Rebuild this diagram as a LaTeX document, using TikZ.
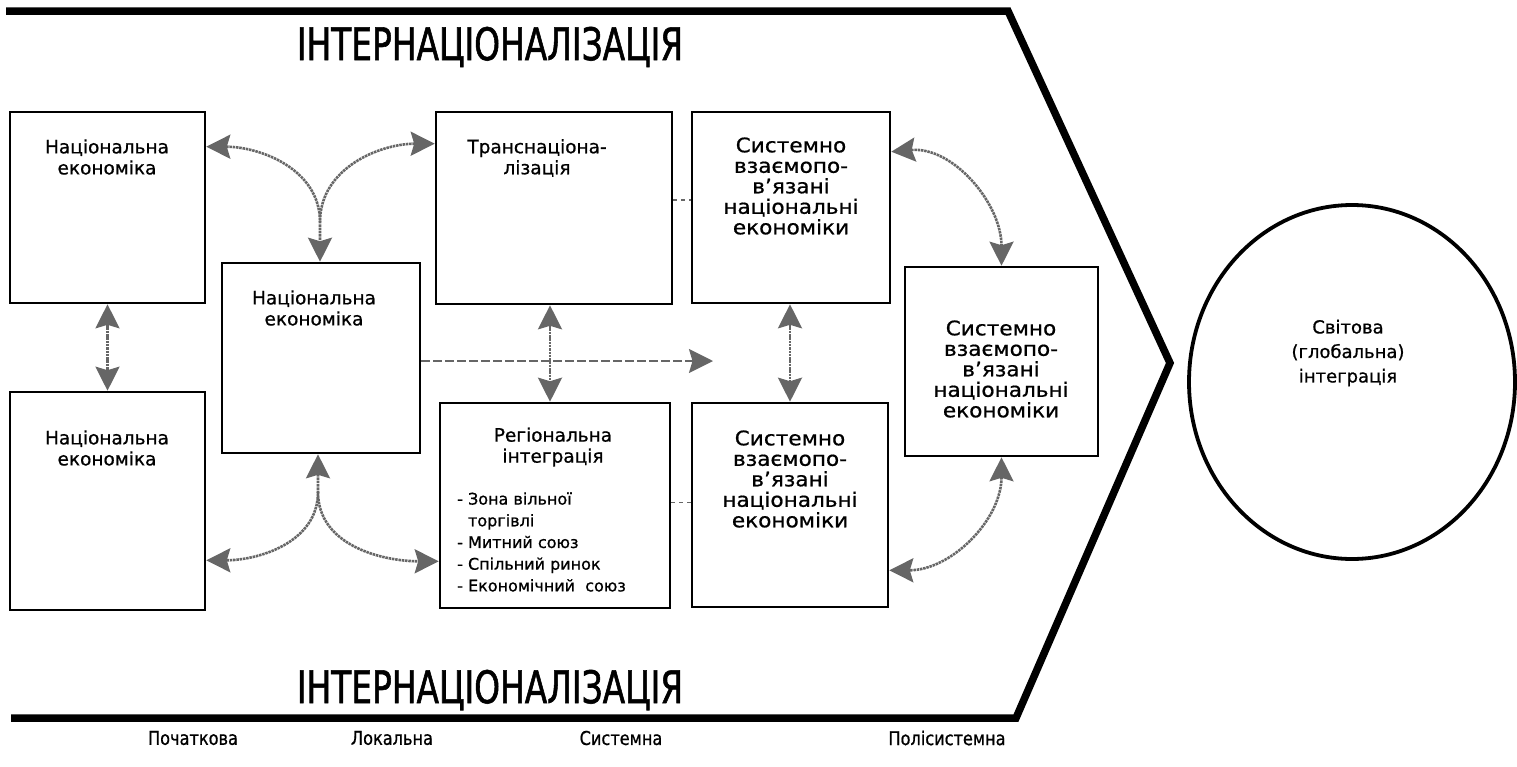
\documentclass[tikz,border=0pt]{standalone}
\usepackage{fontspec}
\setmainfont{DejaVu Sans}[FakeBold=0.8]
\newfontfamily\titlefont[FakeStretch=0.73,FakeBold=1.2]{DejaVu Sans}
\newfontfamily\stagefont[FakeStretch=0.85,FakeBold=0.8]{DejaVu Sans}
\newfontfamily\wideboxfont[FakeStretch=1.08,FakeBold=0.8]{DejaVu Sans}
\usetikzlibrary{arrows.meta,shapes.geometric}

\begin{document}
\begin{tikzpicture}[x=1pt,y=-1pt,
  frame/.style={line width=7.5pt, line join=miter, line cap=butt},
  box/.style={draw, line width=2.6pt, inner sep=0pt},
  hd/.style={align=center, inner sep=0pt, font=\fontsize{18.5}{21}\selectfont},
  sys/.style={align=center, inner sep=0pt, font=\wideboxfont\fontsize{20}{20.5}\selectfont},
  lst/.style={align=left, inner sep=0pt, font=\fontsize{16}{21.7}\selectfont},
  ttl/.style={inner sep=0pt, font=\titlefont\fontsize{45}{45}\selectfont},
  stage/.style={inner sep=0pt, font=\stagefont\fontsize{19}{19}\selectfont},
  gtip/.tip={Stealth[length=24pt,width=24pt,inset=3.5pt]},
  garr/.style={draw=black!60, line width=2.6pt, dash pattern=on 2.5pt off 0.8pt},
  gdash/.style={draw=black!60, line width=2.2pt, dash pattern=on 9pt off 3pt},
  gdots/.style={draw=black!60, line width=1.8pt, dash pattern=on 4pt off 4pt}
]
\useasboundingbox (0,0) rectangle (1517,766);

% outer chevron frame
\draw[frame] (6,11) -- (1008,11) -- (1170,363) -- (1016,718) -- (11,718);

% titles
\node[ttl] (ttop) at (490,47) {ІНТЕРНАЦІОНАЛІЗАЦІЯ};
\node[ttl] (tbot) at (490,690) {ІНТЕРНАЦІОНАЛІЗАЦІЯ};

% boxes
\node[box, minimum width=195pt, minimum height=191pt] (b1) at (107.5,207.5) {};
\node[box, minimum width=195pt, minimum height=218pt] (b2) at (107.5,501) {};
\node[box, minimum width=198pt, minimum height=190pt] (b3) at (321,358) {};
\node[box, minimum width=236pt, minimum height=192pt] (b4) at (554,208) {};
\node[box, minimum width=230pt, minimum height=205pt] (b5) at (555,505.5) {};
\node[box, minimum width=198pt, minimum height=191pt] (b6) at (791,207.5) {};
\node[box, minimum width=193pt, minimum height=189pt] (b7) at (1001.5,361.5) {};
\node[box, minimum width=196pt, minimum height=204pt] (b8) at (790,505) {};

% world integration
\node[draw, ellipse, line width=3.8pt, minimum width=326pt, minimum height=354pt, inner sep=0pt] (world) at (1352,382) {};
\node[hd, font=\fontsize{18}{24.5}\selectfont] (worldtxt) at (1348,353) {Світова\\(глобальна)\\інтеграція};

% box texts
\node[hd] (t1) at (107,157) {Національна\\економіка};
\node[hd] (t2) at (107,448) {Національна\\економіка};
\node[hd] (t3) at (314,308) {Національна\\економіка};
\node[hd] (t4) at (537,158) {Транснаціона-\\лізація};
\node[hd] (t5) at (553,447) {Регіональна\\інтеграція};
\node[lst, anchor=west] (t5l) at (457,542) {- Зона вільної\\\phantom{- }торгівлі\\- Митний союз\\- Спільний ринок\\- Економічний\ \ союз};
\node[sys] (t6) at (791,186) {Системно\\взаємопо-\\в’язані\\національні\\економіки};
\node[sys] (t7) at (1001,369) {Системно\\взаємопо-\\в’язані\\національні\\економіки};
\node[sys] (t8) at (790,479) {Системно\\взаємопо-\\в’язані\\національні\\економіки};

% stage labels
\node[stage] (s1) at (193,738) {Початкова};
\node[stage] (s2) at (392,738) {Локальна};
\node[stage] (s3) at (621,738) {Системна};
\node[stage] (s4) at (947,738) {Полісистемна};

% connectors
\coordinate (m1) at (320,222);
\coordinate (m2) at (318,492);
\coordinate (hend) at (713,361);

\draw[garr, gtip-gtip] ([yshift=-36pt]b1.north east) to[out=0, in=90] (m1) -- (m1 |- b3.north);
\draw[garr, gtip-] ([yshift=-33pt]b4.north west) to[out=180, in=90] (m1);

\draw[garr, gtip-gtip] (b3.south -| m2) -- (m2) to[out=-90, in=0] ([yshift=51pt]b2.south east);
\draw[garr, -gtip] (m2) to[out=-90, in=180] ([yshift=48pt]b5.south west);

\draw[garr, gtip-gtip] (b1.south) -- (b2.north);
\draw[garr, gtip-gtip] (b4.south -| 550,0) -- (b5.north -| 550,0);
\draw[garr, gtip-gtip] (b6.south -| 790,0) -- (b8.north -| 790,0);

\draw[garr, gtip-gtip] ([yshift=-41pt]b6.north east) to[out=5, in=90] (b7.north);
\draw[garr, gtip-gtip] (b7.south) to[out=-90, in=0] ([yshift=38pt]b8.south east);

\draw[gdash, -gtip] (b3.east |- hend) -- (hend);

\draw[gdots] ([yshift=8pt]b4.east) -- ([yshift=8pt]b4.east -| b6.west);
\draw[gdots] ([yshift=3pt]b5.east) -- ([yshift=3pt]b5.east -| b8.west);
\end{tikzpicture}
\end{document}
